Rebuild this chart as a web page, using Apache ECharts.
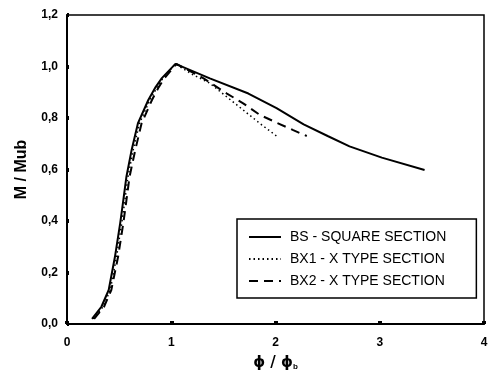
<!DOCTYPE html>
<html>
<head>
<meta charset="utf-8">
<script src="https://cdn.jsdelivr.net/npm/echarts@6/dist/echarts.min.js"></script>
<style>
  html, body { margin: 0; padding: 0; background: #fff; }
  #chart { width: 496px; height: 383px; }
</style>
</head>
<body>
<div id="chart"></div>
<script>
// BS - square section
const bsX = [0.24, 0.33, 0.40, 0.46, 0.51, 0.54, 0.57, 0.62, 0.68, 0.78, 0.85, 0.91, 1.04, 1.37, 1.74, 2.01, 2.27, 2.50, 2.71, 3.02, 3.43];
const bsY = [0.02, 0.067, 0.132, 0.261, 0.391, 0.48, 0.572, 0.676, 0.779, 0.87, 0.92, 0.955, 1.01, 0.954, 0.895, 0.838, 0.775, 0.73, 0.69, 0.646, 0.598];
// BX1 - X type section
const bx1X = [0.25, 0.345, 0.415, 0.475, 0.525, 0.555, 0.585, 0.635, 0.695, 0.795, 0.865, 0.92, 1.04, 1.20, 1.37, 1.53, 1.69, 1.85, 2.01];
const bx1Y = [0.02, 0.067, 0.132, 0.261, 0.391, 0.48, 0.572, 0.676, 0.779, 0.87, 0.92, 0.955, 1.01, 0.97, 0.935, 0.883, 0.831, 0.779, 0.73];
// BX2 - X type section
const bx2X = [0.26, 0.355, 0.425, 0.49, 0.54, 0.57, 0.60, 0.655, 0.715, 0.815, 0.88, 0.935, 1.05, 1.31, 1.53, 1.69, 1.85, 2.01, 2.17, 2.30];
const bx2Y = [0.02, 0.067, 0.132, 0.261, 0.391, 0.48, 0.572, 0.676, 0.779, 0.87, 0.92, 0.955, 1.01, 0.954, 0.896, 0.857, 0.812, 0.782, 0.753, 0.73];

const seriesNames = ['BS - SQUARE SECTION', 'BX1 - X TYPE SECTION', 'BX2 - X TYPE SECTION'];

function pairs(xs, ys) {
  return xs.map((x, i) => [x, ys[i]]);
}

const chart = echarts.init(document.getElementById('chart'), null, { renderer: 'canvas' });

const axisFont = { color: '#000', fontFamily: 'Liberation Sans, Arial', fontWeight: 'bold', fontSize: 12 };

const option = {
  backgroundColor: '#ffffff',
  animation: false,
  grid: {
    left: 67, right: 12, top: 15, bottom: 59,
    show: true, borderColor: '#000', borderWidth: 1.5
  },
  legend: {
    orient: 'vertical',
    left: 237, top: 219,
    width: 225,
    padding: [11, 30, 10, 11],
    itemWidth: 32, itemHeight: 14, itemGap: 8,
    borderColor: '#000', borderWidth: 1.5,
    backgroundColor: '#fff',
    data: seriesNames,
    itemStyle: { opacity: 0 },
    textStyle: { color: '#000', fontFamily: 'Liberation Sans, Arial', fontSize: 14, padding: [0, 0, 0, 4] }
  },
  xAxis: {
    type: 'value',
    min: 0, max: 4, interval: 1,
    name: '\u03d5 / \u03d5{sub|b}',
    nameLocation: 'middle',
    nameGap: 31,
    nameTextStyle: {
      color: '#000', fontFamily: 'DejaVu Sans', fontWeight: 'bold', fontSize: 15,
      rich: { sub: { fontSize: 8, fontFamily: 'Liberation Sans', color: '#000', verticalAlign: 'bottom', padding: [8, 0, 0, 0] } }
    },
    axisLine: { lineStyle: { color: '#000', width: 2 } },
    axisTick: { inside: true, length: 3, lineStyle: { color: '#000', width: 4 } },
    axisLabel: Object.assign({ margin: 13 }, axisFont),
    splitLine: { show: false }
  },
  yAxis: {
    type: 'value',
    min: 0, max: 1.2, interval: 0.2,
    name: 'M / Mub',
    nameLocation: 'middle',
    nameGap: 37,
    nameTextStyle: { color: '#000', fontFamily: 'Liberation Sans, Arial', fontWeight: 'bold', fontSize: 16 },
    axisLine: { lineStyle: { color: '#000', width: 2 } },
    axisTick: { inside: true, length: 2, lineStyle: { color: '#000', width: 4 } },
    axisLabel: Object.assign({
      margin: 9,
      formatter: v => v.toFixed(1).replace('.', ',')
    }, axisFont),
    splitLine: { show: false }
  },
  series: [
    {
      name: seriesNames[0], type: 'line', symbol: 'none',
      data: pairs(bsX, bsY),
      lineStyle: { color: '#000', width: 2, type: 'solid' },
      itemStyle: { color: '#000' }
    },
    {
      name: seriesNames[1], type: 'line', symbol: 'none',
      data: pairs(bx1X, bx1Y),
      lineStyle: { color: '#000', width: 1.5, type: [1.5, 3] },
      itemStyle: { color: '#000' }
    },
    {
      name: seriesNames[2], type: 'line', symbol: 'none',
      data: pairs(bx2X, bx2Y),
      lineStyle: { color: '#000', width: 2, type: [9, 6] },
      itemStyle: { color: '#000' }
    }
  ]
};

chart.setOption(option);
</script>
</body>
</html>
